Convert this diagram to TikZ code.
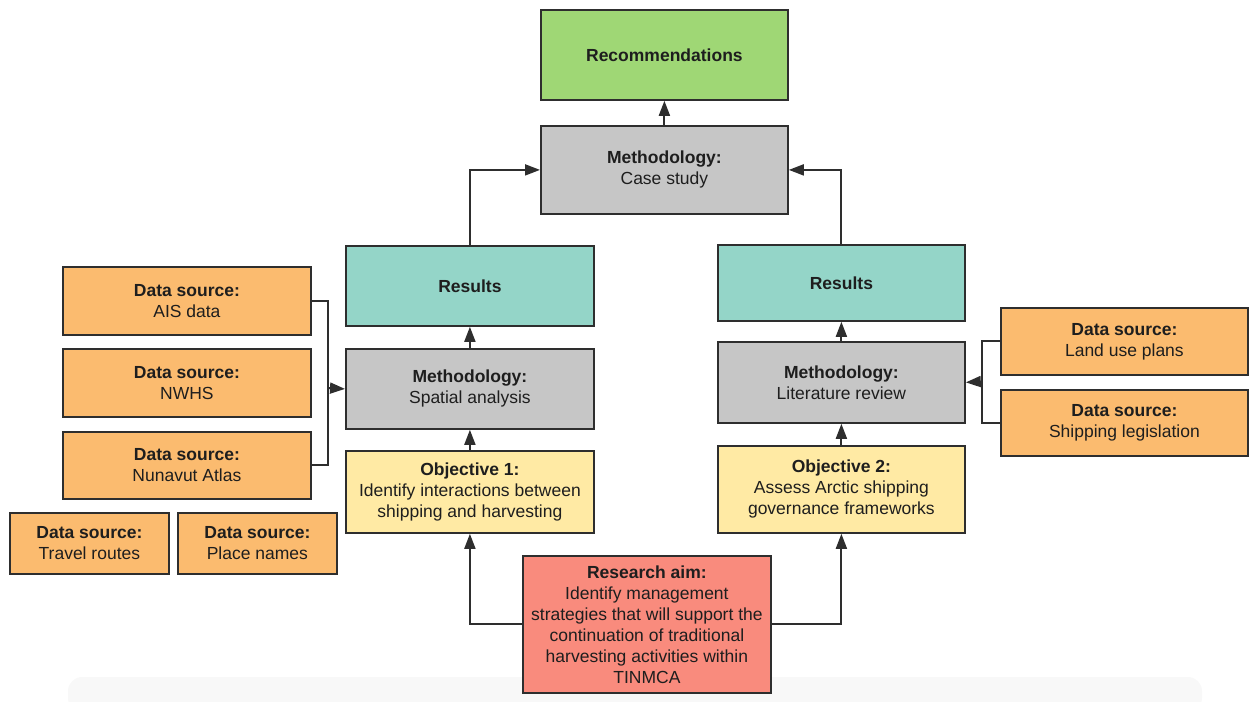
\documentclass[tikz,border=0pt]{standalone}
\usepackage{fontspec}
\setmainfont{Liberation Sans}
\usetikzlibrary{arrows.meta}
\definecolor{bd}{HTML}{2E2E2E}
\definecolor{tx}{HTML}{1E1E1E}
\definecolor{cgreen}{HTML}{9FD775}
\definecolor{cgray}{HTML}{C6C6C6}
\definecolor{cteal}{HTML}{94D5C8}
\definecolor{corange}{HTML}{FBBB6F}
\definecolor{cyellow}{HTML}{FFEAA4}
\definecolor{csalmon}{HTML}{F98B7D}
\definecolor{cband}{HTML}{F8F8F8}
\begin{document}
\begin{tikzpicture}[x=1pt,y=-1pt,
  box/.style={draw=bd, line width=1.8pt, text=tx, align=center, inner sep=0pt,
    anchor=north west, font=\fontsize{17.5}{21}\selectfont},
  line/.style={draw=bd, line width=1.9pt},
  conn/.style={line, -{Triangle[length=15pt,width=11pt]}}]
\useasboundingbox (0,0) rectangle (1254,702);
\fill[cband, rounded corners=14pt] (68,677) rectangle (1202,712);
% top
\node[box, fill=cgreen, minimum width=247pt, minimum height=90pt] (rec) at (540,9) {\textbf{Recommendations}};
\node[box, fill=cgray, minimum width=247pt, minimum height=88pt] (case) at (540,125) {\textbf{Methodology:}\\Case study};
% left column
\node[box, fill=cteal, minimum width=248pt, minimum height=80pt] (resL) at (345,245) {\textbf{Results}};
\node[box, fill=cgray, minimum width=248pt, minimum height=80pt] (spat) at (345,348) {\textbf{Methodology:}\\Spatial analysis};
\node[box, fill=cyellow, minimum width=248pt, minimum height=82pt] (obj1) at (345,450) {\textbf{Objective 1:}\\Identify interactions between\\shipping and harvesting};
% right column
\node[box, fill=cteal, minimum width=247pt, minimum height=76pt] (resR) at (717,244) {\textbf{Results}};
\node[box, fill=cgray, minimum width=247pt, minimum height=81pt] (lit) at (717,341) {\textbf{Methodology:}\\Literature review};
\node[box, fill=cyellow, minimum width=247pt, minimum height=87pt] (obj2) at (717,445) {\textbf{Objective 2:}\\Assess Arctic shipping\\governance frameworks};
% aim
\node[box, fill=csalmon, minimum width=248pt, minimum height=137pt] (aim) at (522,555) {\textbf{Research aim:}\\Identify management\\strategies that will support the\\continuation of traditional\\harvesting activities within\\TINMCA};
% left data sources
\node[box, fill=corange, minimum width=248pt, minimum height=68pt] (ais) at (62,266) {\textbf{Data source:}\\AIS data};
\node[box, fill=corange, minimum width=248pt, minimum height=68pt] (nwhs) at (62,348) {\textbf{Data source:}\\NWHS};
\node[box, fill=corange, minimum width=248pt, minimum height=67pt] (nun) at (62,431) {\textbf{Data source:}\\Nunavut Atlas};
\node[box, fill=corange, minimum width=159pt, minimum height=61pt] (trav) at (9,512) {\textbf{Data source:}\\Travel routes};
\node[box, fill=corange, minimum width=159pt, minimum height=61pt] (place) at (177,512) {\textbf{Data source:}\\Place names};
% right data sources
\node[box, fill=corange, minimum width=247pt, minimum height=67pt] (land) at (1000,307) {\textbf{Data source:}\\Land use plans};
\node[box, fill=corange, minimum width=247pt, minimum height=66pt] (leg) at (1000,389) {\textbf{Data source:}\\Shipping legislation};
% connectors
\draw[conn] (case.north) -- (rec.south);
\draw[conn] (resL.north) |- (case.west);
\draw[conn] (resR.north) |- (case.east);
\draw[conn] (spat.north) -- (resL.south);
\draw[conn] (obj1.north) -- (spat.south);
\draw[conn] (lit.north) -- (resR.south);
\draw[conn] (obj2.north) -- (lit.south);
\draw[conn] (aim.west) -| (obj1.south);
\draw[conn] (aim.east) -| (obj2.south);
\coordinate (bl) at (328,388);
\draw[line] (ais.east) -| (bl) |- (nun.east);
\draw[conn] (bl) -- (spat.west);
\coordinate (br) at (982,381.5);
\draw[line] (land.west) -| (br) |- (leg.west);
\draw[conn] (br) -- (lit.east);
\end{tikzpicture}
\end{document}
